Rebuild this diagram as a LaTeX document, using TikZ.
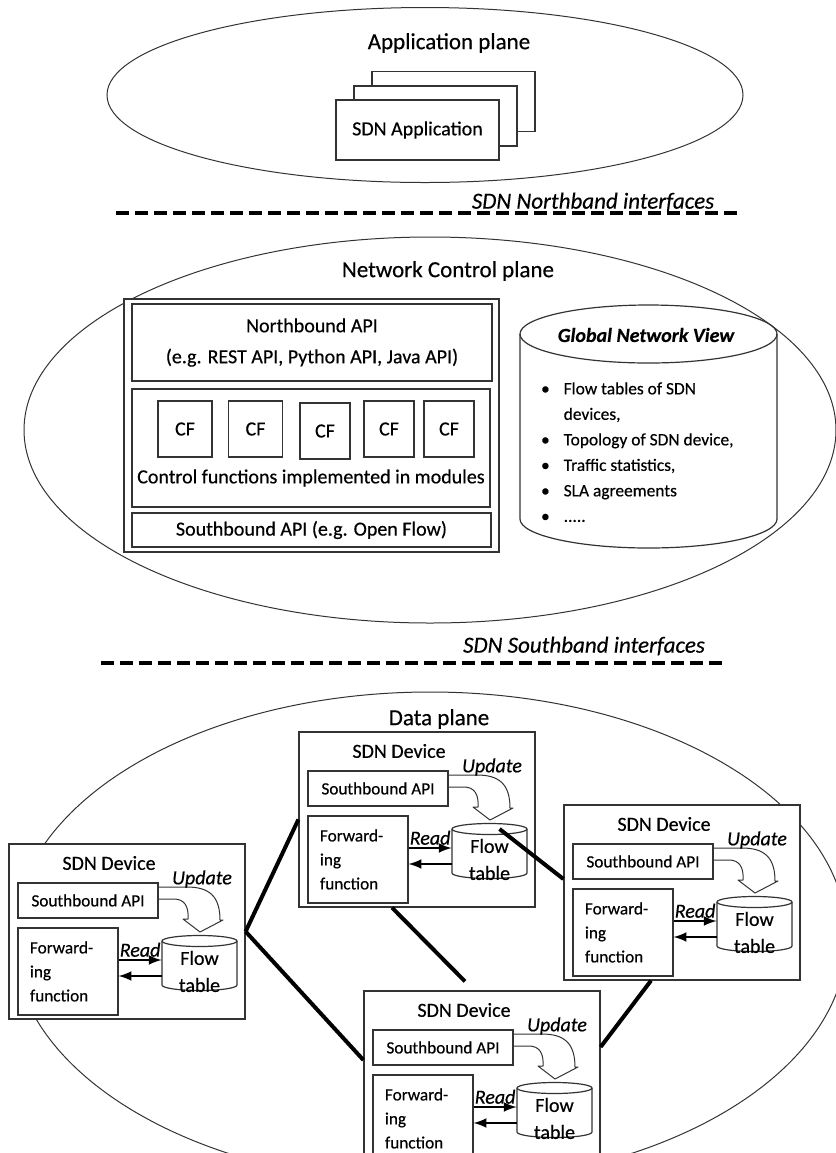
\documentclass[tikz,border=0pt]{standalone}
\usepackage{fontspec}
\setmainfont{Carlito}[FakeBold=0.4]
\usetikzlibrary{shapes.geometric}
\tikzstyle{plane}=[ellipse, draw=black!80, line width=0.5pt, inner sep=0pt]
\tikzstyle{planetitle}=[font=\fontsize{11.5}{14}\selectfont]
\tikzstyle{ifacetext}=[font=\fontsize{11.5}{14}\selectfont\itshape]
\tikzstyle{sepline}=[line width=2pt, dash pattern=on 6.5pt off 3pt]
\tikzstyle{boxnode}=[rectangle, draw=black!80, fill=white, line width=0.6pt, inner sep=0pt, font=\fontsize{10}{12}\selectfont]
\tikzstyle{bodytext}=[font=\fontsize{10}{12}\selectfont]
\tikzstyle{devbox}=[boxnode, minimum width=118pt, minimum height=87.5pt]
\tikzstyle{apibox}=[boxnode, minimum width=70pt, minimum height=17.5pt, font=\fontsize{8.6}{12}\selectfont]
\tikzstyle{fwdbox}=[boxnode, minimum width=50pt, minimum height=43.5pt, text width=38pt, align=left, font=\fontsize{8.6}{12}\selectfont]
\tikzstyle{drumline}=[draw=black!80, line width=0.6pt]
\tikzstyle{readarrow}=[->, line width=1.2pt]
\tikzstyle{updarrow}=[draw=black!80, line width=0.5pt, line join=round]
\tikzstyle{linkline}=[line width=2pt]

\begin{document}
\begin{tikzpicture}[x=0.5pt, y=-0.5pt, >=latex]
\useasboundingbox (0,0) rectangle (836,1153);
\clip (0,0) rectangle (836,1153);

% application plane
\node[plane, minimum width=318pt, minimum height=87.5pt] at (425, 95) (appplane) {};
\node[planetitle] at (449, 43) (apptitle) {Application plane};
\node[boxnode, minimum width=81.5pt, minimum height=30pt] at (453.5, 101.5) (app3) {};
\node[boxnode, minimum width=81.5pt, minimum height=30pt] at (435.5, 116) (app2) {};
\node[boxnode, minimum width=81.5pt, minimum height=30pt] at (417.5, 130) (app1) {SDN Application};
\node[ifacetext] at (593, 202) (nbif) {SDN Northband interfaces};
\draw[sepline] (116, 213) -- (739, 213);

% control plane
\node[plane, minimum width=406pt, minimum height=193pt] at (430, 430) (ctrlplane) {};
\node[planetitle] at (448, 271) (ctrltitle) {Network Control plane};
\node[boxnode, minimum width=187.5pt, minimum height=126.5pt] at (311.5, 425.5) (ctrl) {};
\node[boxnode, minimum width=180pt, minimum height=38.5pt, align=center, font=\fontsize{10}{15.5}\selectfont] at (312, 342.5) (nbapi) {Northbound API\\(e.g. REST API, Python API, Java API)};
\node[boxnode, minimum width=179pt, minimum height=59pt] at (311, 448) (cfs) {};
\node[boxnode, minimum width=27pt, minimum height=28pt] at (185, 429) (cf1) {CF};
\node[boxnode, minimum width=27pt, minimum height=28pt] at (255.5, 429) (cf2) {CF};
\node[boxnode, minimum width=25pt, minimum height=28pt] at (325, 431) (cf3) {CF};
\node[boxnode, minimum width=25pt, minimum height=28pt] at (389, 429) (cf4) {CF};
\node[boxnode, minimum width=25pt, minimum height=28pt] at (449, 429) (cf5) {CF};
\node[bodytext] at (311, 478) (cftext) {Control functions implemented in modules};
\node[boxnode, minimum width=179.5pt, minimum height=17pt] at (311.5, 530) (sbapi) {Southbound API (e.g. Open Flow)};

% global network view
\node[minimum width=128.5pt, minimum height=121.5pt, inner sep=0pt] at (648.5, 426.5) (gnv) {};
\draw[drumline] (648.5, 334) ellipse[x radius=64.25pt, y radius=14.5pt];
\draw[drumline] (520, 334) -- (520, 519) arc[start angle=180, end angle=360, x radius=64.25pt, y radius=14.5pt] -- (777, 334);
\node[font=\fontsize{10}{12}\selectfont\bfseries\itshape] at (646, 335) (gnvtitle) {Global Network View};
\node[anchor=west, font=\fontsize{8.7}{12.75}\selectfont] at (534, 453) (gnvlist) {\begin{tabular}{@{}l@{\hspace{7pt}}l@{}}
\textbullet & Flow tables of SDN\\
 & devices,\\
\textbullet & Topology of SDN device,\\
\textbullet & Traffic statistics,\\
\textbullet & SLA agreements\\
\textbullet & .....
\end{tabular}};
\node[ifacetext] at (584, 646) (sbif) {SDN Southband interfaces};
\draw[sepline] (101, 663) -- (723, 663);

% data plane
\node[plane, minimum width=417pt, minimum height=246pt] at (430, 938) (dataplane) {};
\node[planetitle] at (439, 719) (datatitle) {Data plane};

\foreach \n/\x/\y in {a/299/732, b/9/844, c/564/805, d/364/991} {
  \begin{scope}[shift={(\x, \y)}]
  \node[devbox] at (118, 87.5) (dev\n) {};
  \node[bodytext] at (100, 19) (devname\n) {SDN Device};
  \node[apibox] at (79, 56.5) (sb\n) {Southbound API};
  \node[fwdbox] at (59, 127.5) (fw\n) {Forward-\\ing\\function};
  \node[minimum width=37.5pt, minimum height=27pt, inner sep=0pt] at (190.5, 119) (ft\n) {};
  \draw[drumline] (190.5, 97) ellipse[x radius=18.75pt, y radius=2.75pt];
  \draw[drumline] (153, 97) -- (153, 141) arc[start angle=180, end angle=360, x radius=18.75pt, y radius=2.75pt] -- (228, 97);
  \node[align=center, inner sep=0pt, font=\fontsize{10}{13.5}\selectfont] at (190.5, 127.5) (ftname\n) {Flow\\table};
  \draw[updarrow] (149, 43) -- (178, 43) .. controls (200, 43) and (211, 52) .. (211, 76) -- (214, 76) -- (191, 88) -- (174, 75) -- (179, 75) .. controls (180, 62) and (175, 55) .. (165, 55) -- (149, 55);
  \node[font=\fontsize{10}{12}\selectfont\itshape] at (193, 35) (upd\n) {Update};
  \draw[readarrow] ([yshift=5.75pt]fw\n.east) -- ([yshift=5.75pt]fw\n.east -| ft\n.west) node[midway, anchor=south, inner sep=1pt, font=\fontsize{10}{12}\selectfont\itshape] {Read};
  \draw[readarrow] ([yshift=-2.25pt]fw\n.east -| ft\n.west) -- ([yshift=-2.25pt]fw\n.east);
  \end{scope}
}

\draw[linkline] (devb.east) -- (deva.west);
\draw[linkline] (devb.east) -- ([yshift=9.25pt]devd.west);
\draw[linkline] ([xshift=-12.5pt]deva.south) -- ([xshift=-8.5pt, yshift=4.5pt]devd.north);
\draw[linkline] ([shift={(5pt, 11pt)}]fta.center) -- ([yshift=6.75pt]devc.west);
\draw[linkline] ([xshift=-15.5pt]devc.south) -- ([yshift=15.75pt]devd.east);
\end{tikzpicture}
\end{document}
